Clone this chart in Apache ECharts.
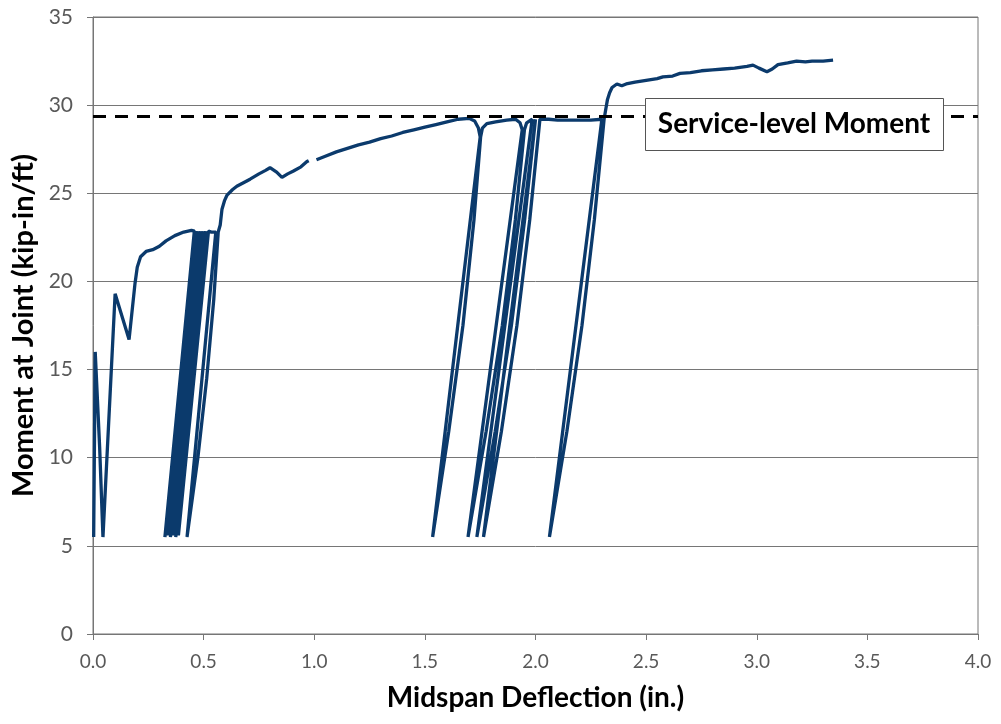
<!DOCTYPE html>
<html>
<head>
<meta charset="utf-8">
<script src="https://cdn.jsdelivr.net/npm/echarts@6/dist/echarts.min.js"></script>
<style>
html,body{margin:0;padding:0;background:#fff;}
#chart{width:1001px;height:724px;}
</style>
</head>
<body>
<div id="chart"></div>
<script>
// Midspan deflection (in.) and moment at joint (kip-in/ft), traced in order; null = gap in record
const deflection = [
  0.003, 0.010, 0.030, 0.045, 0.100, 0.163, 0.190, 0.200, 0.215, 0.240, 0.270, 0.300, 0.330, 0.370, 0.410, 0.445, 0.458,
  0.325, 0.462, 0.338, 0.474, 0.350, 0.486, 0.362, 0.498, 0.374, 0.510, 0.386, 0.522,
  0.535, 0.555, 0.425, 0.474, 0.514, 0.546, 0.566,
  0.575, 0.583, 0.595, 0.606, 0.630, 0.650, 0.680, 0.710, 0.750, 0.780, 0.800, 0.830, 0.854, 0.880, 0.904, 0.940, 0.967, 0.975,
  0.990,
  1.010, 1.050, 1.100, 1.150, 1.200, 1.250, 1.300, 1.350, 1.400, 1.450, 1.500, 1.550, 1.600, 1.650, 1.700, 1.725, 1.742, 1.750,
  1.535, 1.608, 1.672, 1.722, 1.752, 1.760, 1.780, 1.820, 1.870, 1.910, 1.930, 1.940,
  1.695, 1.777, 1.850, 1.909, 1.950, 1.960, 1.985,
  1.735, 1.818, 1.891, 1.951, 2.000,
  1.765, 1.846, 1.916, 1.974, 2.020,
  2.060, 2.100, 2.150, 2.200, 2.250, 2.300,
  2.063, 2.142, 2.210, 2.266, 2.310,
  2.318, 2.325, 2.335, 2.346, 2.368, 2.390, 2.410, 2.450, 2.500, 2.550, 2.576, 2.620, 2.653, 2.700, 2.750, 2.800, 2.850,
  2.900, 2.956, 2.983, 3.010, 3.046, 3.070, 3.096, 3.140, 3.180, 3.220, 3.250, 3.300, 3.345
];
const moment = [
  5.5, 16.0, 10.6, 5.5, 19.3, 16.7, 19.9, 20.8, 21.4, 21.7, 21.8, 22.0, 22.3, 22.6, 22.8, 22.9, 22.85,
  5.5, 22.85, 5.6, 22.85, 5.5, 22.85, 5.6, 22.85, 5.5, 22.85, 5.6, 22.85,
  22.8, 22.8, 5.5, 10.0, 14.5, 19.0, 22.8,
  23.2, 24.1, 24.6, 24.9, 25.2, 25.4, 25.6, 25.8, 26.1, 26.3, 26.45, 26.2, 25.9, 26.1, 26.25, 26.5, 26.8, 26.85,
  null,
  26.9, 27.1, 27.35, 27.55, 27.75, 27.9, 28.1, 28.25, 28.45, 28.6, 28.75, 28.9, 29.05, 29.2, 29.25, 29.1, 28.7, 28.2,
  5.5, 11.5, 17.5, 23.5, 28.2, 28.7, 28.95, 29.05, 29.15, 29.2, 29.0, 28.6,
  5.5, 11.5, 17.5, 23.5, 28.6, 29.0, 29.2,
  5.5, 11.5, 17.5, 23.5, 29.2,
  5.5, 11.5, 17.5, 23.5, 29.2,
  29.2, 29.15, 29.15, 29.15, 29.15, 29.2,
  5.5, 11.5, 17.5, 23.5, 29.2,
  29.8, 30.3, 30.7, 31.0, 31.2, 31.1, 31.2, 31.3, 31.4, 31.5, 31.6, 31.65, 31.8, 31.85, 31.95, 32.0, 32.05,
  32.1, 32.2, 32.27, 32.1, 31.9, 32.05, 32.3, 32.4, 32.5, 32.45, 32.5, 32.5, 32.55
];
const serviceMoment = 29.35;
const serviceLabel = 'Service-level Moment';
const xTicks = { min: 0, max: 4, interval: 0.5 };
const yTicks = { min: 0, max: 35, interval: 5 };

const curveData = deflection.map((x, i) => moment[i] === null ? [x, '-'] : [x, moment[i]]);

const chart = echarts.init(document.getElementById('chart'), null, { renderer: 'canvas' });
const gridColor = '#767676';
chart.setOption({
  animation: false,
  backgroundColor: '#ffffff',
  grid: { left: 93, right: 23, top: 17, bottom: 90, show: true, borderColor: gridColor, borderWidth: 1 },
  xAxis: {
    type: 'value', min: xTicks.min, max: xTicks.max, interval: xTicks.interval,
    name: 'Midspan Deflection (in.)', nameLocation: 'middle', nameGap: 50,
    nameTextStyle: { fontFamily: 'Lato', fontWeight: 'bold', fontSize: 28, color: '#000' },
    axisLine: { lineStyle: { color: gridColor, width: 1 } },
    axisTick: { show: true, length: 6, lineStyle: { color: gridColor } },
    axisLabel: { fontFamily: 'Lato', fontSize: 19, color: '#595959', margin: 18, formatter: v => v.toFixed(1) },
    splitLine: { show: false }
  },
  yAxis: {
    type: 'value', min: yTicks.min, max: yTicks.max, interval: yTicks.interval,
    name: 'Moment at Joint (kip-in/ft)', nameLocation: 'middle', nameGap: 48,
    nameTextStyle: { fontFamily: 'Lato', fontWeight: 'bold', fontSize: 29, color: '#000' },
    axisLine: { show: true, lineStyle: { color: gridColor, width: 1 } },
    axisTick: { show: true, length: 6, lineStyle: { color: gridColor } },
    axisLabel: { fontFamily: 'Lato', fontSize: 21, color: '#595959', margin: 20 },
    splitLine: { show: true, lineStyle: { color: gridColor, width: 1 } }
  },
  series: [
    {
      type: 'line', data: curveData, showSymbol: false, connectNulls: false,
      lineStyle: { color: '#0b3a6c', width: 3.3 }, z: 2
    },
    {
      type: 'line', data: [[xTicks.min, serviceMoment], [xTicks.max, serviceMoment]], showSymbol: false,
      lineStyle: { color: '#000', width: 3, type: [13, 9] }, z: 3
    }
  ],
  graphic: [
    {
      type: 'rect', left: 645, top: 98, z: 10,
      shape: { width: 298, height: 52 },
      style: { fill: '#fff', stroke: '#555', lineWidth: 1 }
    },
    {
      type: 'text', x: 794, y: 124, z: 11,
      style: { text: serviceLabel, fontFamily: 'Lato', fontWeight: 'bold', fontSize: 28, fill: '#000', align: 'center', verticalAlign: 'middle' }
    }
  ]
});
</script>
</body>
</html>
